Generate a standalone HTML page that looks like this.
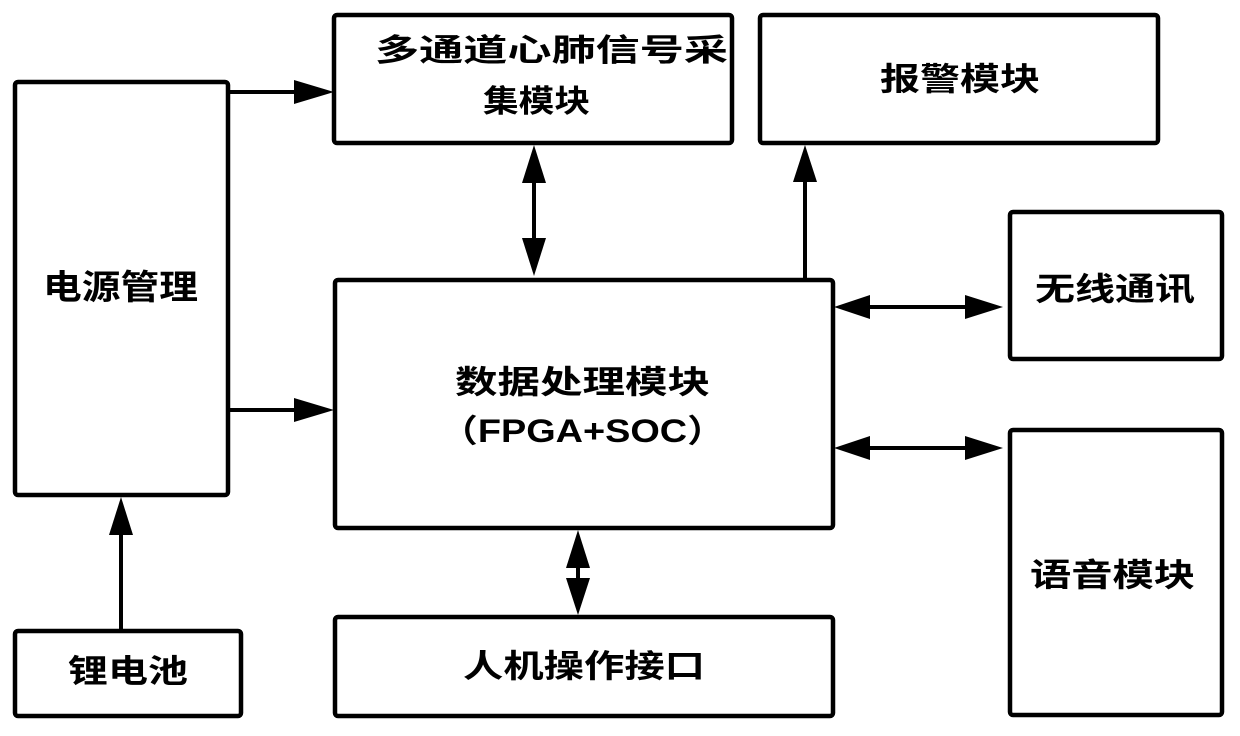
<!DOCTYPE html>
<html><head><meta charset="utf-8"><style>
html,body{margin:0;padding:0;background:#fff;}
svg text{font-family:"Liberation Sans","Noto Sans CJK SC",sans-serif;font-weight:bold;fill:#000;}
</style></head><body>
<svg width="1240" height="731" viewBox="0 0 1240 731" xmlns="http://www.w3.org/2000/svg">
<defs>
<marker id="a" markerWidth="10" markerHeight="10" refX="9" refY="5" orient="auto" markerUnits="userSpaceOnUse" viewBox="0 0 10 10">
</marker>
</defs>
<g fill="none" stroke="#000" stroke-width="4.5" stroke-linejoin="round">
<rect x="15" y="82" width="213" height="413" rx="3"/>
<rect x="334" y="15" width="398" height="128" rx="3"/>
<rect x="760" y="15" width="398" height="128" rx="3"/>
<rect x="335" y="280" width="498" height="248" rx="3"/>
<rect x="1010" y="212" width="212" height="147" rx="3"/>
<rect x="1010" y="430" width="212" height="285" rx="3"/>
<rect x="335" y="617" width="498" height="99" rx="3"/>
<rect x="15" y="631" width="226" height="85" rx="3"/>
</g>
<g stroke="#000" stroke-width="4">
<line x1="228" y1="92" x2="300" y2="92"/>
<line x1="228" y1="410" x2="300" y2="410"/>
<line x1="534" y1="175" x2="534" y2="240"/>
<line x1="805" y1="280" x2="805" y2="182"/>
<line x1="860" y1="307" x2="975" y2="307"/>
<line x1="860" y1="448" x2="975" y2="448"/>
<line x1="578" y1="560" x2="578" y2="590"/>
<line x1="121" y1="631" x2="121" y2="535"/>
</g>
<g fill="#000">
<polygon points="294,80 334,92 294,104"/>
<polygon points="294,398 334,410 294,422"/>
<polygon points="522,183 534,145 546,183"/>
<polygon points="522,238 534,276 546,238"/>
<polygon points="793,182 805,145 817,182"/>
<polygon points="870,295 834,307 870,319"/>
<polygon points="965,295 1003,307 965,319"/>
<polygon points="870,436 834,448 870,460"/>
<polygon points="965,436 1003,448 965,460"/>
<polygon points="566,568 578,530 590,568"/>
<polygon points="566,578 578,615 590,578"/>
<polygon points="109,535 121,497 133,535"/>
</g>
<text x="375" y="61" font-size="31" textLength="353" lengthAdjust="spacingAndGlyphs">多通道心肺信号采</text>
<text x="483" y="112" font-size="31" textLength="107" lengthAdjust="spacingAndGlyphs">集模块</text>
<text x="880" y="90" font-size="32" textLength="160" lengthAdjust="spacingAndGlyphs">报警模块</text>
<text x="43" y="299" font-size="34" textLength="155" lengthAdjust="spacingAndGlyphs">电源管理</text>
<text x="1035" y="300" font-size="32" textLength="160" lengthAdjust="spacingAndGlyphs">无线通讯</text>
<text x="455" y="393" font-size="32" textLength="255" lengthAdjust="spacingAndGlyphs">数据处理模块</text>
<text x="440" y="442" font-size="32" textLength="285" lengthAdjust="spacingAndGlyphs">（FPGA+SOC）</text>
<text x="1030" y="586" font-size="32" textLength="165" lengthAdjust="spacingAndGlyphs">语音模块</text>
<text x="463" y="677" font-size="32" textLength="242" lengthAdjust="spacingAndGlyphs">人机操作接口</text>
<text x="68" y="682" font-size="32" textLength="120" lengthAdjust="spacingAndGlyphs">锂电池</text>
</svg>
</body></html>
